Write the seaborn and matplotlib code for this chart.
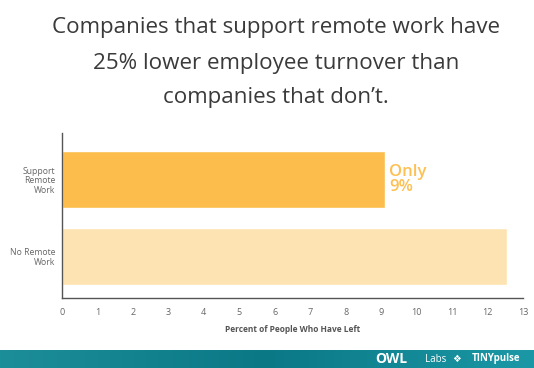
import numpy as np
import pandas as pd
import seaborn as sns
import matplotlib.pyplot as plt

# data
groups = ["Support\nRemote\nWork", "No Remote\nWork"]
pct_left = [9.12, 12.54]
bar_colors = ["#FDBD4C", "#FDE3B1"]
x_ticks = list(range(0, 14))

df = pd.DataFrame({"group": groups, "pct": pct_left})

sns.set_style("white")
plt.rcParams['font.family'] = ['Open Sans', 'DejaVu Sans']

fig = plt.figure(figsize=(5.34, 3.68), dpi=100)
ax = fig.add_axes([62/534, 1-298/368, (523-62)/534, 165/368])

sns.barplot(data=df, x="pct", y="group", hue="group", palette=bar_colors,
            orient="h", width=0.74, legend=False, ax=ax, saturation=1)

ax.set_xlim(0, 13)
ax.set_ylim(1.539, -0.604)
ax.set_xticks(x_ticks)
ax.set_xticklabels([str(t) for t in x_ticks], fontsize=6.5, color="#666666")
ax.set_yticks(range(len(groups)))
ax.set_yticklabels(groups, fontsize=6.2, color="#666666", linespacing=1.05)
ax.tick_params(length=0, pad=7)
ax.tick_params(axis="y", pad=5)
ax.set_ylabel("")
ax.set_xlabel("Percent of People Who Have Left", fontsize=6, fontweight="bold",
              color="#555555", labelpad=6)
sns.despine(ax=ax)
for s in ["left", "bottom"]:
    ax.spines[s].set_color("#555555")
    ax.spines[s].set_linewidth(1)

# callout next to the short bar
ax.text(pct_left[0] + 0.1, 0, "Only\n9%", color="#FDC052", fontsize=12,
        fontweight="semibold", va="center", ha="left", linespacing=0.85)

# title
title_lines = ["Companies that support remote work have",
               "25% lower employee turnover than",
               "companies that don\u2019t."]
for i, line in enumerate(title_lines):
    fig.text(276/534, 1-(28+35*i)/368, line, ha="center", va="center",
             fontsize=16.1, color="#3a3a3a")

# footer band
fax = fig.add_axes([0, 0, 1, 18/368])
grad = np.linspace(0, 1, 256)
fax.imshow(np.vstack([grad, grad]), aspect="auto", extent=[0, 1, 0, 1],
           cmap=sns.blend_palette(["#1c8e99", "#0b7886", "#1b98a6"], as_cmap=True))
fax.set_axis_off()
fig.text(375/534, 9/368, "OWL", color="white", fontsize=10, fontweight="bold",
         ha="left", va="center")
fig.text(425/534, 8.5/368, "Labs", color="white", fontsize=7, ha="left", va="center")
fig.text(452/534, 9/368, "\u2756", color="white", fontsize=7, ha="left", va="center",
         family="DejaVu Sans")
fig.text(520/534, 9/368, "TINYpulse", color="white", fontsize=7, fontweight="bold",
         ha="right", va="center")

fig.savefig("out.png", dpi=100)
